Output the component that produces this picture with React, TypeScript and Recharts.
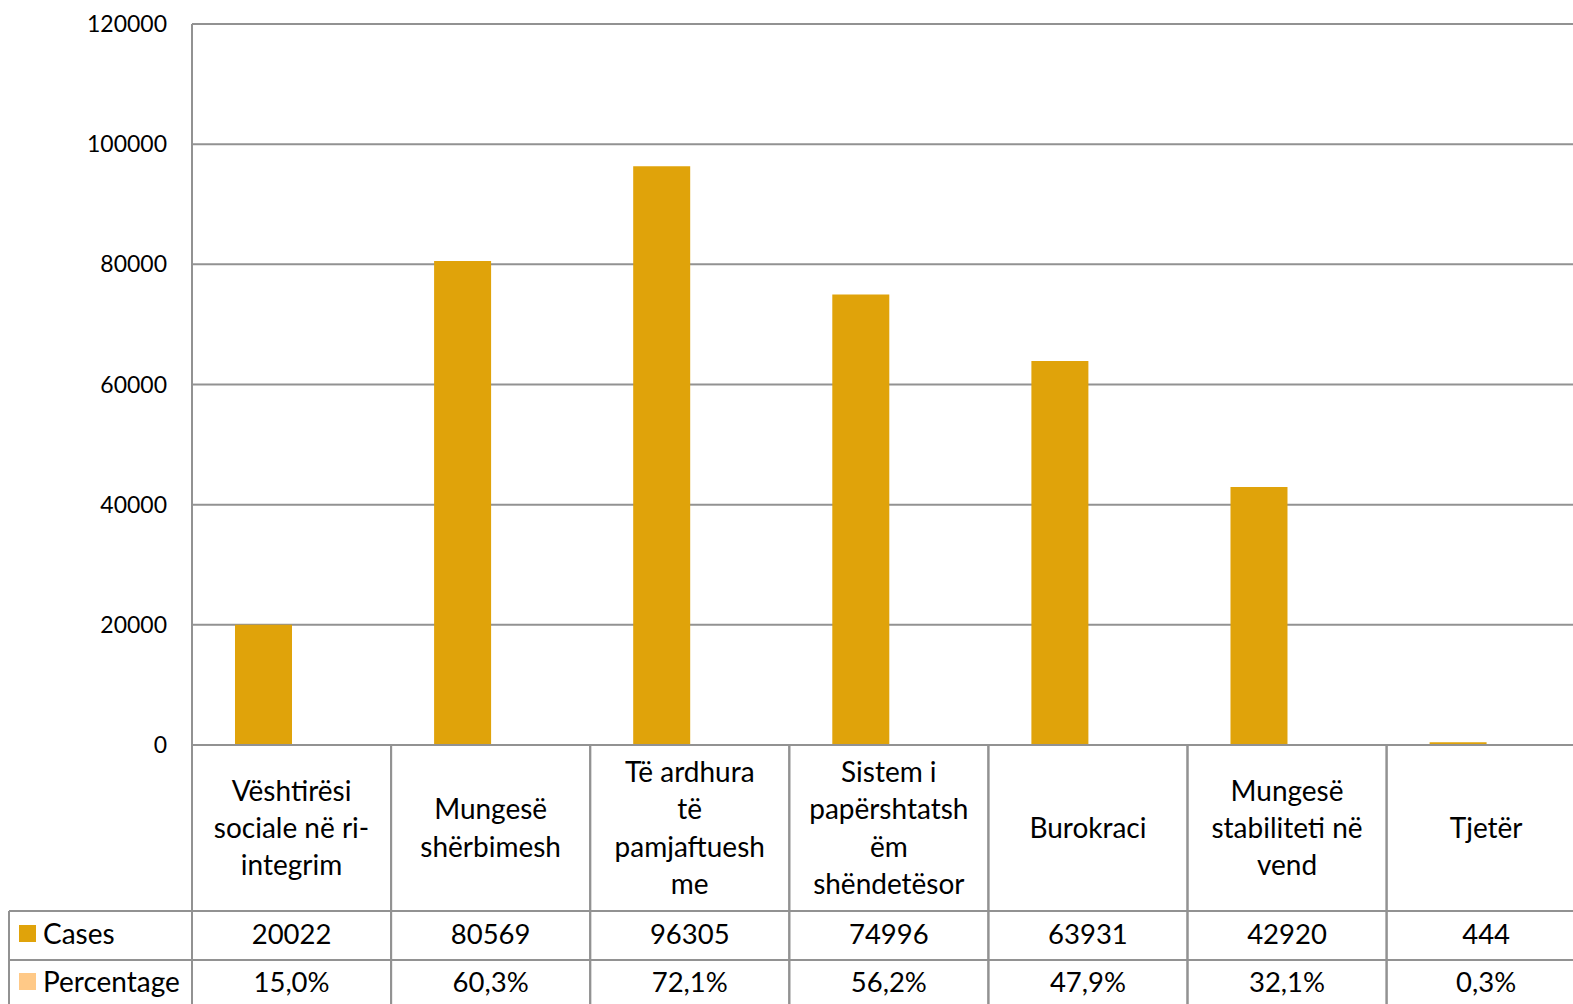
import React from "react";
import { BarChart, Bar, XAxis, YAxis, CartesianGrid } from "recharts";

const categoryLines: string[][] = [
  ["Vështirësi", "sociale në ri-", "integrim"],
  ["Mungesë", "shërbimesh"],
  ["Të ardhura", "të", "pamjaftuesh", "me"],
  ["Sistem i", "papërshtatsh", "ëm", "shëndetësor"],
  ["Burokraci"],
  ["Mungesë", "stabiliteti në", "vend"],
  ["Tjetër"],
];
const cases = [20022, 80569, 96305, 74996, 63931, 42920, 444];
const percentage = [15.0, 60.3, 72.1, 56.2, 47.9, 32.1, 0.3];
const percentageLabels = ["15,0%", "60,3%", "72,1%", "56,2%", "47,9%", "32,1%", "0,3%"];
const yTicks = [0, 20000, 40000, 60000, 80000, 100000, 120000];

const data = categoryLines.map((lines, i) => ({
  name: lines.join(" "),
  cases: cases[i],
  percentage: percentage[i],
}));

const Y_W = 192;
const SLOT = 199.1;
const CHART_W = Y_W + SLOT * categoryLines.length;
const TOP = 24;
const PLOT_H = 721;
const CHART_H = 1012;
const GRID = "#929292";
const FONT = "Lato, 'Open Sans', sans-serif";
const CASES_COLOR = "#E0A30A";
const PCT_COLOR = "#FFC987";

function TableTick(props: any) {
  const { x, y, payload, index } = props;
  const cx = payload?.coordinate ?? x;
  const left = cx - SLOT / 2;
  const right = cx + SLOT / 2;
  const lines = categoryLines[index] || [];
  const mid = y + 82;
  const rowA = y + 166;
  const rowB = y + 215;
  const txt = { fontFamily: FONT, fontSize: 28, fill: "#000" };
  const num = { fontFamily: FONT, fontSize: 27.5, fill: "#000" };
  return (
    <g>
      <line x1={left} y1={y} x2={left} y2={y + 280} stroke={GRID} strokeWidth={2} />
      <line x1={right} y1={y} x2={right} y2={y + 280} stroke={GRID} strokeWidth={2} />
      <line x1={left} y1={rowA} x2={right} y2={rowA} stroke={GRID} strokeWidth={2} />
      <line x1={left} y1={rowB} x2={right} y2={rowB} stroke={GRID} strokeWidth={2} />
      {lines.map((l, i) => (
        <text
          key={i}
          x={cx}
          y={mid + (i - (lines.length - 1) / 2) * 37.1}
          textAnchor="middle"
          dominantBaseline="central"
          {...txt}
        >
          {l}
        </text>
      ))}
      <text x={cx} y={y + 189} textAnchor="middle" dominantBaseline="central" {...num}>
        {cases[index]}
      </text>
      <text x={cx} y={y + 237} textAnchor="middle" dominantBaseline="central" {...num}>
        {percentageLabels[index]}
      </text>
      {index === 0 && (
        <g>
          <line x1={9} y1={rowA} x2={left} y2={rowA} stroke={GRID} strokeWidth={2} />
          <line x1={9} y1={rowB} x2={left} y2={rowB} stroke={GRID} strokeWidth={2} />
          <line x1={9} y1={rowA} x2={9} y2={y + 280} stroke={GRID} strokeWidth={2} />
          <rect x={19} y={y + 180} width={17} height={17} fill={CASES_COLOR} />
          <text x={43} y={y + 188} dominantBaseline="central" {...txt}>
            Cases
          </text>
          <rect x={19} y={y + 228} width={17} height={17} fill={PCT_COLOR} />
          <text x={43} y={y + 236} dominantBaseline="central" {...txt}>
            Percentage
          </text>
        </g>
      )}
    </g>
  );
}

export default function App() {
  return (
    <div
      style={{
        position: "fixed",
        left: 0,
        top: 0,
        width: 1573,
        height: 1004,
        overflow: "hidden",
        background: "#fff",
      }}
    >
      <BarChart
        width={CHART_W}
        height={CHART_H}
        data={data}
        margin={{ top: TOP, right: 0, bottom: 0, left: 0 }}
        barGap={0}
        barSize={57}
      >
        <CartesianGrid vertical={false} stroke={GRID} strokeWidth={2} />
        <XAxis
          dataKey="name"
          interval={0}
          height={CHART_H - TOP - PLOT_H}
          tickLine={false}
          tickSize={0}
          tickMargin={0}
          axisLine={{ stroke: GRID, strokeWidth: 2 }}
          tick={<TableTick />}
        />
        <YAxis
          width={Y_W}
          domain={[0, 120000]}
          ticks={yTicks}
          interval={0}
          tickLine={false}
          tickSize={0}
          tickMargin={25}
          axisLine={{ stroke: GRID, strokeWidth: 2 }}
          tick={{ fontFamily: FONT, fontSize: 23, fill: "#000" }}
        />
        <Bar dataKey="cases" fill={CASES_COLOR} isAnimationActive={false} />
        <Bar dataKey="percentage" fill={PCT_COLOR} isAnimationActive={false} />
      </BarChart>
    </div>
  );
}
